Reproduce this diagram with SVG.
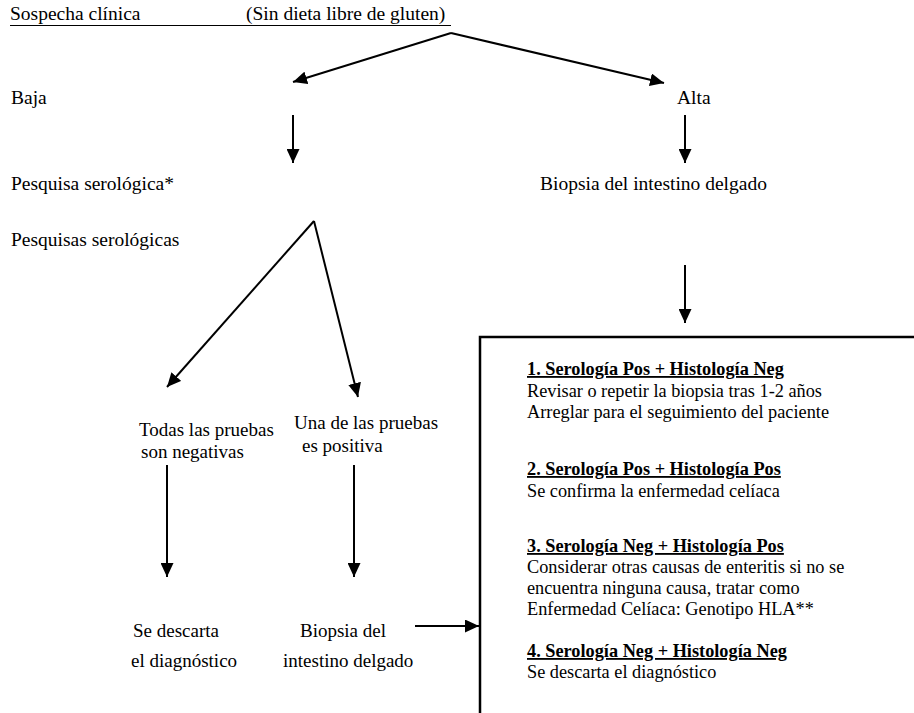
<svg xmlns="http://www.w3.org/2000/svg" width="914" height="713" viewBox="0 0 914 713">
<defs>
<style>
text{font-family:"Liberation Serif","Times New Roman",serif;font-size:19.5px;fill:#000}
.m{font-size:19px}
.s{font-size:18.3px}
.b{font-weight:bold;text-decoration:underline}
.c{stroke:#000;stroke-width:2;fill:none;marker-end:url(#ah)}
</style>
<marker id="ah" markerUnits="userSpaceOnUse" markerWidth="15" markerHeight="13" refX="14" refY="6.5" orient="auto">
<path d="M0,0 L14,6.5 L0,13 z" fill="#000"/>
</marker>
</defs>
<rect width="914" height="713" fill="#fff"/>
<g id="n-sospecha">
<text x="10" y="20">Sospecha clínica</text>
<text x="246" y="20">(Sin dieta libre de gluten)</text>
<line x1="10" y1="25.5" x2="451" y2="25.5" stroke="#000" stroke-width="1"/>
</g>
<g id="n-baja"><text x="11" y="104">Baja</text></g>
<g id="n-alta"><text x="677" y="104">Alta</text></g>
<g id="n-pesquisa"><text x="11" y="190">Pesquisa serológica*</text></g>
<g id="n-biopsia1"><text x="540" y="190">Biopsia del intestino delgado</text></g>
<g id="n-pesquisas"><text x="11" y="246">Pesquisas serológicas</text></g>
<g id="n-todas" class="m">
<text class="m" x="139" y="436">Todas las pruebas</text>
<text class="m" x="141" y="458">son negativas</text>
</g>
<g id="n-una">
<text class="m" x="294" y="429">Una de las pruebas</text>
<text class="m" x="302" y="452">es positiva</text>
</g>
<g id="n-descarta">
<text class="m" x="133" y="637">Se descarta</text>
<text class="m" x="131" y="667">el diagnóstico</text>
</g>
<g id="n-biopsia2">
<text class="m" x="300" y="637">Biopsia del</text>
<text class="m" x="283" y="667">intestino delgado</text>
</g>
<g id="n-box">
<rect x="480" y="337" width="460" height="400" fill="none" stroke="#000" stroke-width="2.5"/>
<text class="s b" x="527" y="375">1. Serología Pos + Histología Neg</text>
<text class="s" x="527" y="397">Revisar o repetir la biopsia tras 1-2 años</text>
<text class="s" x="527" y="418">Arreglar para el seguimiento del paciente</text>
<text class="s b" x="527" y="475">2. Serología Pos + Histología Pos</text>
<text class="s" x="527" y="497">Se confirma la enfermedad celíaca</text>
<text class="s b" x="527" y="552">3. Serología Neg + Histología Pos</text>
<text class="s" x="527" y="573">Considerar otras causas de enteritis si no se</text>
<text class="s" x="527" y="594">encuentra ninguna causa, tratar como</text>
<text class="s" x="527" y="615">Enfermedad Celíaca: Genotipo HLA**</text>
<text class="s b" x="527" y="657">4. Serología Neg + Histología Neg </text>
<text class="s" x="527" y="678">Se descarta el diagnóstico</text>
</g>
<g id="connectors">
<line class="c" x1="451" y1="33" x2="293" y2="82"/>
<line class="c" x1="451" y1="33" x2="664" y2="83"/>
<line class="c" x1="293" y1="115" x2="293" y2="163"/>
<line class="c" x1="685" y1="115" x2="685" y2="163"/>
<line class="c" x1="314" y1="221" x2="167" y2="387"/>
<line class="c" x1="314" y1="221" x2="358" y2="397"/>
<line class="c" x1="685" y1="265" x2="685" y2="323"/>
<line class="c" x1="167" y1="465" x2="167" y2="577"/>
<line class="c" x1="354" y1="465" x2="354" y2="577"/>
<line class="c" x1="415" y1="626" x2="479" y2="626"/>
</g>
</svg>
